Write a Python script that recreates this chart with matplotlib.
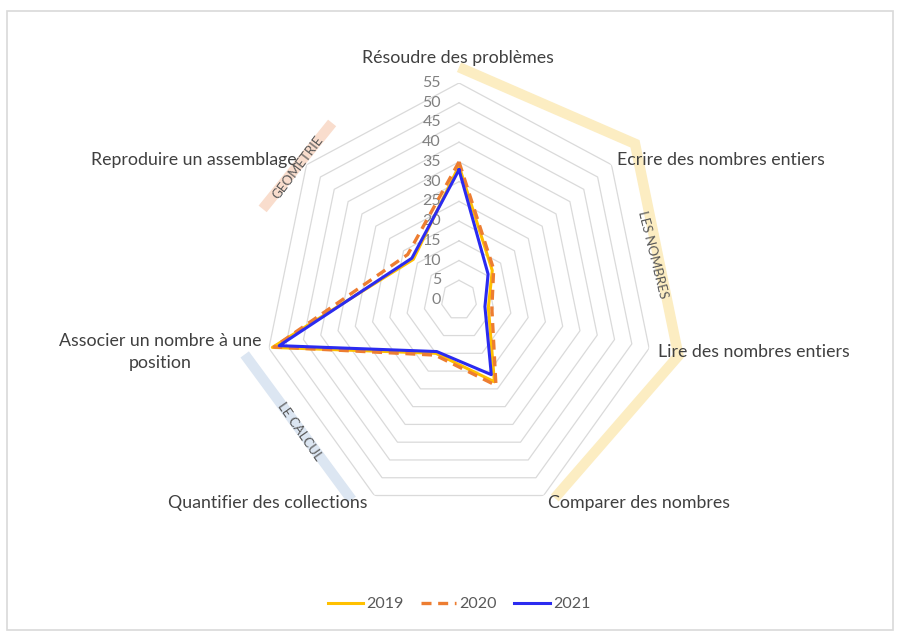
import numpy as np
import matplotlib.pyplot as plt
from matplotlib.lines import Line2D
from matplotlib.patches import Rectangle

categories = [
    "Résoudre des problèmes",
    "Ecrire des nombres entiers",
    "Lire des nombres entiers",
    "Comparer des nombres",
    "Quantifier des collections",
    "Associer un nombre à une\nposition",
    "Reproduire un assemblage",
]
series_names = ["2019", "2020", "2021"]
values_2019 = [34, 12, 8.5, 23, 15, 54, 16.5]
values_2020 = [35, 12.5, 9.5, 24, 15.5, 53.5, 18.5]
values_2021 = [33, 10.5, 7.5, 21, 14.5, 52, 17]
ring_values = list(range(5, 60, 5))
tick_values = list(range(0, 60, 5))
theme_names = ["LES NOMBRES", "LE CALCUL", "GEOMETRIE"]

W, H = 899, 632
DPI = 100


def px(x, y):
    # pixel position of the reference -> figure fraction
    return x / W, 1 - y / H


def angle(idx):
    return 2 * np.pi * np.asarray(idx, dtype=float) / len(categories)


plt.rcParams["font.family"] = ["Lato", "DejaVu Sans"]

fig = plt.figure(figsize=(W / DPI, H / DPI), dpi=DPI)
fig.patches.append(Rectangle((7 / W, 1 - 630 / H), 886 / W, 619 / H,
                             transform=fig.transFigure, fill=False,
                             edgecolor="#d9d9d9", linewidth=1.2))

# centre (459, 300), radius 195 px wide, 217 px high (stretched screenshot)
left, top = px(264, 83)
right, bottom = px(654, 517)
ax = fig.add_axes([left, bottom, right - left, top - bottom], projection="polar")
ax.set_aspect("auto")
ax.set_theta_zero_location("N")
ax.set_theta_direction(-1)
ax.set_ylim(0, 55)
ax.grid(False)
ax.set_xticks([])
ax.set_yticks([])
ax.spines["polar"].set_visible(False)
ax.patch.set_alpha(0)

theta = angle(list(range(len(categories))) + [0])

for v in ring_values:
    ax.plot(theta, [v] * len(theta), color="#dadada", lw=0.9, zorder=1)

for v in tick_values:
    ax.annotate(str(v), xy=(0, v), xytext=(-13, 0), textcoords="offset points",
                ha="right", va="center", fontsize=11.5, color="#808080")

# theme bands around the chart
bands = [
    ([0.0, 1.0, 2.0, 2.95], [59, 63.5, 63.5, 57], "#fcedc2"),
    ([5.0, 4.1], [62, 59], "#dce6f2"),
    ([5.69, 6.25], [60, 57.4], "#f9ddcd"),
]
for idx, rr, col in bands:
    ax.plot(angle(idx), rr, color=col, lw=7.5, solid_capstyle="butt",
            solid_joinstyle="miter", clip_on=False, zorder=0)

styles = [
    dict(color="#ffc000", lw=2.2, ls="-"),
    dict(color="#ed7d31", lw=2.4, ls=(0, (3, 2))),
    dict(color="#2b2bf0", lw=2.2, ls="-"),
]
for vals, st in zip([values_2019, values_2020, values_2021], styles):
    ax.plot(theta, vals + vals[:1], zorder=3, **st)

# category labels
label_pos = [
    (458, 58, "center"),
    (617, 160, "left"),
    (658, 352, "left"),
    (548, 503, "left"),
    (368, 503, "right"),
    (160, 352, "center"),
    (297, 160, "right"),
]
for text, (x, y, ha) in zip(categories, label_pos):
    fx, fy = px(x, y)
    fig.text(fx, fy, text, ha=ha, va="center", fontsize=12.8, color="#404040",
             multialignment="center", linespacing=1.4)

theme_pos = [(653, 255, -76), (300, 431, -55), (298, 167, 53)]
for text, (x, y, rot) in zip(theme_names, theme_pos):
    fx, fy = px(x, y)
    fig.text(fx, fy, text, ha="center", va="center", rotation=rot,
             rotation_mode="anchor", fontsize=9.5, color="#595959")

handles = [Line2D([], [], **st) for st in styles]
lx, ly = px(459, 604)
fig.legend(handles, series_names, loc="center", bbox_to_anchor=(lx, ly),
           ncol=3, frameon=False, fontsize=11.5, handlelength=2.2,
           handletextpad=0.2, columnspacing=1.1, labelcolor="#595959")

fig.savefig("out.png", dpi=DPI)
